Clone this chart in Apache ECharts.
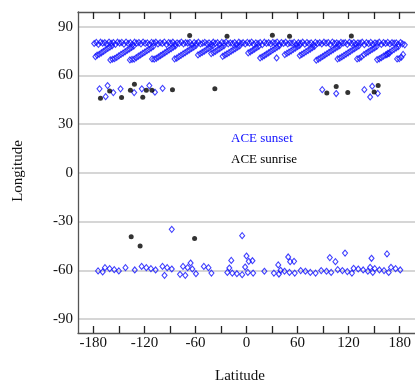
<!DOCTYPE html>
<html>
<head>
<meta charset="utf-8">
<script src="https://cdn.jsdelivr.net/npm/echarts@6/dist/echarts.min.js"></script>
<style>html,body{margin:0;padding:0;background:#fff}#c{width:415px;height:383px}</style>
</head>
<body>
<div id="c"></div>
<script>
// Tick values
const xTickLabels = [-180, -120, -60, 0, 60, 120, 180];
const xTicks = [-180, -150, -120, -90, -60, -30, 0, 30, 60, 90, 120, 150, 180];
const yTickLabels = [-90, -60, -30, 0, 30, 60, 90];

// ACE sunset (blue diamonds) : [latitude, longitude]
const sunsetNorthRow = [
[-179,79.6],[-176.5,80.3],[-174,79.1],[-171.5,80.4],[-169,79.8],[-166.5,80.1],[-164,79.3],[-161.5,80.5],[-159,79.7],[-156.5,80.2],
[-154,79.0],[-151.5,80.4],[-149,79.9],[-146.5,80.3],[-144,79.2],[-141.5,80.5],[-139,79.6],[-136.5,80.1],[-134,78.9],[-131.5,80.4],
[-129,79.8],[-126.5,80.2],[-124,79.4],[-121.5,80.5],[-119,79.7],[-116.5,80.0],[-114,79.1],[-111.5,80.3],[-109,79.9],[-106.5,80.4],
[-104,79.3],[-101.5,80.1],[-99,79.6],[-96.5,80.5],[-94,79.0],[-91.5,80.2],[-89,79.8],[-86.5,80.4],[-84,79.2],[-81.5,80.0],
[-79,79.7],[-76.5,80.5],[-74,79.4],[-71.5,80.1],[-69,79.9],[-66.5,80.3],[-64,78.9],[-61.5,80.2],[-59,79.6],[-56.5,80.4],
[-54,79.3],[-51.5,79.8],[-49,80.3],[-46.5,79.5],[-44,80.0],[-41.5,79.2],[-39,80.4],[-36.5,79.7],[-34,80.1],[-31.5,79.0],
[-29,80.3],[-26.5,79.8],[-24,80.5],[-21.5,79.4],[-19,80.0],[-16.5,79.6],[-14,80.2],[-11.5,79.1],[-9,80.4],[-6.5,79.7],
[-4,80.1],[-1.5,79.3],[1,80.3],[3.5,79.8],[6,80.5],[8.5,79.2],[11,80.0],[13.5,79.6],[16,80.2],[18.5,78.9],
[21,80.4],[23.5,79.7],[26,80.1],[28.5,79.4],[31,80.3],[33.5,79.9],[36,80.5],[38.5,79.1],[41,80.2],[43.5,79.6],
[46,80.4],[48.5,79.3],[51,80.0],[53.5,79.8],[56,80.3],[58.5,79.0],[61,80.1],[63.5,79.7],[66,80.4],[68.5,79.2],
[71,80.2],[73.5,79.5],[76,80.0],[78.5,78.9],[81,80.3],[83.5,79.6],[86,80.1],[88.5,79.3],[91,80.4],[93.5,79.8],
[96,80.2],[98.5,79.0],[101,80.5],[103.5,79.7],[106,80.0],[108.5,79.4],[111,80.3],[113.5,79.9],[116,80.1],[118.5,79.1],
[121,80.4],[123.5,79.6],[126,80.2],[128.5,79.3],[131,80.0],[133.5,79.8],[136,80.4],[138.5,78.9],[141,80.1],[143.5,79.5],
[146,80.3],[148.5,79.2],[151,80.0],[153.5,79.7],[156,80.4],[158.5,79.0],[161,80.2],[163.5,79.6],[166,80.3],[168.5,79.3],
[171,80.1],[173.5,79.8],[176,80.0],[178.5,79.1],[181,80.2],[183.5,79.4],[186,78.8]
];
const sunsetNorthStreaks = [
[-177.5,71.5],[-175.5,72.4],[-173,73.0],[-170.5,73.9],[-168,74.8],[-165.5,75.7],[-163,76.6],[-160.5,77.4],[-158,78.2],
[-160,69.5],[-157.5,69.9],[-155,70.3],[-152.5,71.1],[-150,72.0],[-147.5,72.9],[-145,73.7],[-142.5,74.6],[-140,75.5],[-137.5,76.3],[-135,77.2],[-132.5,78.0],
[-137,69.5],[-134.5,69.8],[-132,70.0],[-129.5,70.9],[-127,71.8],[-124.5,72.6],[-122,73.5],[-119.5,74.3],[-117,75.2],[-114.5,76.0],[-112,76.9],[-109.5,77.8],
[-111,70.1],[-108.5,70.0],[-106,70.5],[-103.5,71.3],[-101,72.2],[-98.5,73.0],[-96,73.9],[-93.5,74.7],[-91,75.6],[-88.5,76.4],[-86,77.3],[-83.5,78.1],
[-84.5,70.1],[-82,70.6],[-79.5,71.5],[-77,72.3],[-74.5,73.2],[-72,74.0],[-69.5,74.9],[-67,75.7],[-64.5,76.6],[-62,77.4],[-59.5,78.3],
[-57,72.6],[-54.5,73.3],[-52,74.1],[-49.5,74.9],[-47,75.8],[-44.5,76.6],[-42,77.5],[-39.5,78.3],
[-41.5,73.4],[-39,74.0],[-36.5,74.8],[-34,75.7],[-31.5,76.5],[-29,77.4],[-26.5,78.2],
[-28,71.7],[-25.5,72.5],[-23,73.2],[-20.5,74.0],[-18,74.9],[-15.5,75.7],[-13,76.5],[-10.5,77.3],[-8,78.1],
[2,73.8],[4.5,74.5],[7,75.3],[9.5,76.2],[12,77.0],[14.5,77.9],
[16,70.7],[18.5,71.4],[21,72.2],[23.5,73.1],[26,73.9],[28.5,74.8],[31,75.6],[33.5,76.4],[36,77.3],[38.5,78.1],
[35.4,70.7],[45,72.8],[47.5,73.5],[50,74.3],[52.5,75.1],[55,76.0],[57.5,76.8],[60,77.6],[62.5,78.4],
[62.6,72.2],[65,72.9],[67.5,73.7],[70,74.6],[72.5,75.4],[75,76.2],[77.5,77.1],[80,77.9],
[82,69.3],[84.5,70.0],[87,70.8],[89.5,71.6],[92,72.5],[94.5,73.3],[97,74.2],[99.5,75.0],[102,75.9],[104.5,76.7],[107,77.5],[109.5,78.3],
[107,70.1],[109.5,70.6],[112,71.4],[114.5,72.2],[117,73.1],[119.5,73.9],[122,74.8],[124.5,75.6],[127,76.4],[129.5,77.3],[132,78.1],
[130,70.1],[132.5,70.5],[135,71.3],[138,72.8],[140.5,73.6],[143,74.4],[145.5,75.3],[148,76.1],[150.5,76.9],[153,77.8],
[153.5,69.7],[156,70.2],[158.5,70.9],[161,71.8],[163.5,72.6],[166,73.5],[168.5,74.3],[171,75.2],[173.5,76.0],[176,76.9],[178.5,77.7],
[165,72.8],[167.5,73.4],[177,70.1],[179.5,70.3],[182,71.2],[184,72.9]
];
const sunsetMid = [
[-172.7,51.7],[-165.5,46.9],[-163.2,53.7],[-156.5,49.4],[-148,51.7],[-132,49.4],[-123,51.7],[-114.2,53.7],[-107.6,49.6],[-98.6,52.0],
[89,51.2],[105.4,48.8],[138.5,51.2],[145.3,46.7],[147.7,53.3],[154.3,48.9]
];
const sunsetSouth = [
[-174.4,-60.4],[-169.0,-61.0],[-166.3,-58.4],[-160.8,-59.0],[-155.4,-59.6],[-150.0,-60.4],[-142.2,-58.4],[-131.3,-59.8],[-123.2,-57.6],[-117.7,-58.4],
[-112.3,-59.0],[-106.8,-59.8],[-98.7,-57.6],[-96.3,-63.1],[-93.2,-58.4],[-87.8,-59.2],[-87.8,-34.8],[-78.1,-62.5],[-74.6,-57.6],[-71.9,-63.1],
[-69.2,-58.4],[-65.7,-55.5],[-63.7,-59.2],[-59.4,-62.1],[-50.1,-57.6],[-44.7,-58.4],[-41.2,-61.7],[-22.5,-61.3],[-20.2,-58.6],[-17.9,-53.9],
[-16.7,-61.7],[-11.3,-62.1],[-5.1,-62.7],[-5.1,-38.7],[-1.6,-58.0],[0,-51.2],[1.6,-61.3],[2.7,-54.5],[7.0,-54.1],[7.8,-61.7],
[21.0,-60.6],[32.2,-61.7],[37.3,-56.7],[38.1,-62.3],[40.0,-60.0],[44.7,-60.6],[49.0,-51.8],[50.5,-61.3],[51.3,-54.7],[55.9,-54.5],
[56.7,-61.7],[63.7,-60.2],[69.2,-60.6],[75.0,-61.3],[81.2,-61.7],[87.8,-60.2],[94.0,-60.6],[97.9,-52.2],[99.5,-61.3],[104.5,-54.7],
[107.2,-59.6],[112.7,-60.2],[115.8,-49.4],[118.5,-60.8],[123.9,-61.7],[125.9,-58.8],[131.3,-59.2],[137.1,-59.8],[142.6,-60.6],[145.3,-58.2],
[146.9,-52.6],[148.4,-61.3],[150.7,-59.0],[156.2,-59.8],[161.6,-60.2],[165.1,-49.9],[167.1,-61.3],[169.8,-58.2],[175.2,-59.0],[180.7,-59.8]
];

// ACE sunrise (black dots) : [latitude, longitude]
const sunriseNorth = [[-66.8,84.5],[-22.9,84.0],[30.4,84.7],[50.6,84.0],[123.2,84.3]];
const sunriseMid = [
[-171.6,45.9],[-160.8,50.4],[-146.8,46.3],[-136.4,50.8],[-131.7,54.5],[-121.9,46.5],[-117.7,50.8],[-111.1,50.8],[-87,51.2],[-37.2,51.7],
[94.4,49.2],[105.4,53.1],[119,49.4],[150,49.8],[154.7,53.7]
];
const sunriseSouth = [[-135.5,-39.3],[-125,-45],[-61,-40.5]];

const serif = '"Liberation Serif", "DejaVu Serif", serif';
const chart = echarts.init(document.getElementById('c'), null, {renderer: 'canvas'});
const axisColor = '#555';
chart.setOption({
  animation: false,
  backgroundColor: '#fff',
  grid: {left: 78, top: 12, width: 340, height: 321, containLabel: false},
  xAxis: [{
    type: 'value', min: -198, max: 198, position: 'bottom',
    axisLine: {show: true, onZero: false, lineStyle: {color: axisColor, width: 1.3}},
    axisTick: {show: true, inside: true, length: 7, customValues: xTicks, lineStyle: {color: '#222', width: 1.3}},
    axisLabel: {customValues: xTickLabels, color: '#111', fontFamily: serif, fontSize: 15, margin: 3},
    splitLine: {show: false}
  }, {
    type: 'value', min: -198, max: 198, position: 'top',
    axisLine: {show: true, onZero: false, lineStyle: {color: axisColor, width: 1.3}},
    axisTick: {show: true, inside: true, length: 7, customValues: xTicks, lineStyle: {color: '#222', width: 1.3}},
    axisLabel: {show: false},
    splitLine: {show: false}
  }],
  yAxis: {
    type: 'value', min: -98.6, max: 99,
    axisLine: {show: true, onZero: false, lineStyle: {color: axisColor, width: 1.3}},
    axisTick: {show: false, customValues: yTickLabels},
    axisLabel: {customValues: yTickLabels, color: '#111', fontFamily: serif, fontSize: 15, margin: 5},
    splitLine: {show: true, lineStyle: {color: '#c8c8c8', width: 1.5}}
  },
  series: [{
    name: 'ACE sunset', type: 'scatter', symbol: 'diamond', symbolSize: [5, 6],
    itemStyle: {color: 'rgba(0,0,0,0)', borderColor: '#1010ff', borderWidth: 1.1},
    data: sunsetNorthRow.concat(sunsetNorthStreaks, sunsetMid, sunsetSouth)
  }, {
    name: 'ACE sunrise', type: 'scatter', symbol: 'circle', symbolSize: 5,
    itemStyle: {color: '#000'},
    data: sunriseNorth.concat(sunriseMid, sunriseSouth)
  }],
  graphic: [
    {type: 'text', x: 231, y: 139, style: {text: 'ACE sunset', fill: '#1010ff', font: '13px ' + serif, textVerticalAlign: 'middle'}},
    {type: 'text', x: 231, y: 160, style: {text: 'ACE sunrise', fill: '#000', font: '13px ' + serif, textVerticalAlign: 'middle'}},
    {type: 'text', x: 240, y: 376, style: {text: 'Latitude', fill: '#111', font: '15px ' + serif, textAlign: 'center', textVerticalAlign: 'middle'}},
    {type: 'text', x: 18, y: 171, rotation: Math.PI / 2, style: {text: 'Longitude', fill: '#111', font: '15px ' + serif, textAlign: 'center', textVerticalAlign: 'middle'}}
  ]
});
</script>
</body>
</html>
